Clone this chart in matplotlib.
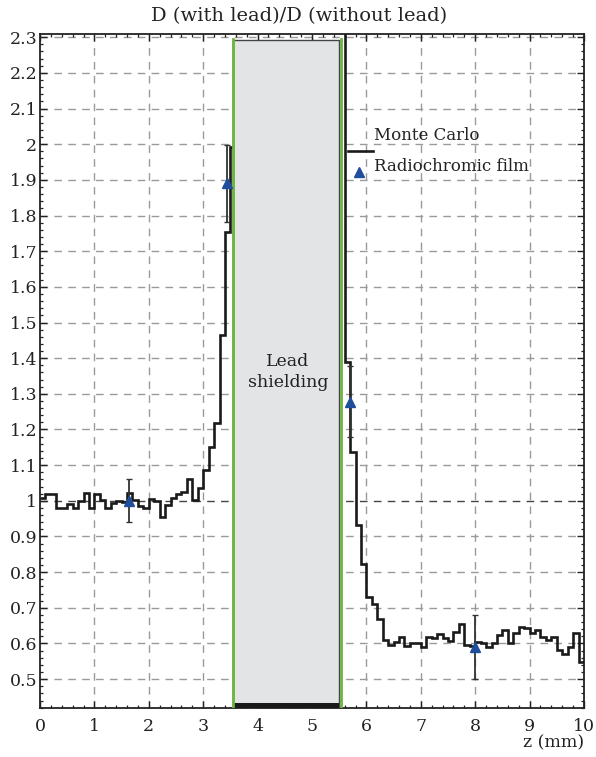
import numpy as np
import matplotlib
matplotlib.use('Agg')
import matplotlib.pyplot as plt
from matplotlib.patches import Rectangle
from matplotlib.ticker import MultipleLocator

plt.rcParams['font.family'] = ['DejaVu Serif']

# Monte Carlo histogram, 0.1 mm bins (left of lead: 0 - 3.6 mm)
left_edges = np.round(np.arange(0.0, 3.65, 0.1), 2)
left_vals = [1.008, 1.018, 1.018, 0.979, 0.981, 0.991, 0.981, 1.000, 1.023, 0.979,
             1.018, 1.002, 0.980, 0.993, 1.000, 0.997, 1.022, 1.002, 0.985, 0.979,
             1.006, 0.999, 0.955, 0.988, 1.008, 1.018, 1.025, 1.061, 1.002, 1.037,
             1.086, 1.151, 1.219, 1.466, 1.754, 1.993]

# right of lead: 5.5 - 10 mm
right_edges = np.round(np.arange(5.5, 10.05, 0.1), 2)
right_vals = [2.45, 1.388, 1.136, 0.932, 0.824, 0.731, 0.710, 0.668,
              0.611, 0.597, 0.604, 0.618, 0.592, 0.600, 0.600, 0.591, 0.617, 0.614,
              0.626, 0.614, 0.607, 0.633, 0.654, 0.595, 0.592, 0.604, 0.602, 0.589,
              0.602, 0.623, 0.639, 0.600, 0.628, 0.647, 0.642, 0.628, 0.637, 0.617,
              0.611, 0.618, 0.583, 0.571, 0.589, 0.628, 0.549]

# Radiochromic film measurements
film_z = [1.64, 3.43, 5.70, 7.99]
film_d = [1.00, 1.89, 1.278, 0.589]
film_err = [0.06, 0.108, 0.10, 0.09]

lead_z = (3.555, 5.495)
ymin, ymax = 0.419, 2.309

fig = plt.figure(figsize=(5.96, 7.57), dpi=100)
ax = fig.add_axes([40 / 596, 1 - 708 / 757, 544 / 596, 674 / 757])

ax.set_xlim(0, 10)
ax.set_ylim(ymin, ymax)

# grid
for v in range(1, 10):
    ax.axvline(v, color='#9a9a9a', lw=1.0, ls=(0, (5.5, 4.5)), zorder=0)
for v in np.arange(0.5, 2.31, 0.1):
    if abs(v - 1.0) < 1e-6:
        ax.axhline(v, color='#444444', lw=1.0, ls=(0, (5.5, 4.5)), zorder=0)
    else:
        ax.axhline(v, color='#9a9a9a', lw=1.0, ls=(0, (5.5, 4.5)), zorder=0)

# Monte Carlo line
ax.stairs(left_vals, left_edges, color='#1a1a1a', lw=1.9, zorder=3, baseline=None)
ax.stairs(right_vals, right_edges, color='#1a1a1a', lw=1.9, zorder=3, baseline=None)

# lead shielding block
ax.add_patch(Rectangle((lead_z[0], ymin), lead_z[1] - lead_z[0], 2.293 - ymin,
                       facecolor='#e3e4e6', edgecolor='#444444', lw=1.0, zorder=4))
ax.add_patch(Rectangle((lead_z[0], ymin), lead_z[1] - lead_z[0], 0.014,
                       facecolor='#1a1a1a', edgecolor='none', zorder=5))
ax.plot([lead_z[0] - 0.015] * 2, [ymin, 2.295], color='#6cb33f', lw=2.0, zorder=5)
ax.plot([lead_z[1] + 0.04] * 2, [ymin, 2.295], color='#6cb33f', lw=2.0, zorder=5)
ax.text(4.56, 1.361, 'Lead\nshielding', ha='center', va='center', fontsize=12.5,
        color='#222222', linespacing=1.3, zorder=6)

# film points
ax.errorbar(film_z, film_d, yerr=film_err, fmt='none', ecolor='#333333',
            elinewidth=1.3, capsize=2, capthick=1.0, zorder=6)
ax.plot(film_z, film_d, ls='none', marker='^', ms=7, color='#1f4e9c', zorder=7)

# legend drawn by hand
ax.plot([(348 - 40) / 544, (373 - 40) / 544], [(708 - 151.5) / 674] * 2,
        transform=ax.transAxes, color='#1a1a1a', lw=1.9, zorder=6)
ax.plot([(359 - 40) / 544], [(708 - 172) / 674], transform=ax.transAxes,
        marker='^', ms=7, color='#1f4e9c', ls='none', zorder=7)
ax.text((374 - 40) / 544, (708 - 136) / 674, 'Monte Carlo', transform=ax.transAxes,
        ha='left', va='center', fontsize=12, color='#222222', zorder=7)
ax.text((374 - 40) / 544, (708 - 167) / 674, 'Radiochromic film', transform=ax.transAxes,
        ha='left', va='center', fontsize=12, color='#222222', zorder=7)

# ticks
ax.xaxis.set_major_locator(MultipleLocator(1))
ax.xaxis.set_minor_locator(MultipleLocator(0.2))
ax.set_yticks(np.round(np.arange(0.5, 2.31, 0.1), 1))
ax.set_yticklabels(['0.5', '0.6', '0.7', '0.8', '0.9', '1', '1.1', '1.2', '1.3', '1.4',
                    '1.5', '1.6', '1.7', '1.8', '1.9', '2', '2.1', '2.2', '2.3'])
ax.yaxis.set_minor_locator(MultipleLocator(0.02))
ax.tick_params(which='both', direction='in', top=True, right=True, colors='#222222',
               labelsize=12.5)
ax.tick_params(which='major', length=5, width=1.0)
ax.tick_params(which='minor', length=2.5, width=0.9)
ax.tick_params(axis='x', pad=7)
ax.tick_params(axis='y', pad=2)
for s in ax.spines.values():
    s.set_linewidth(1.3)
    s.set_color('#222222')

fig.text(299 / 596, 1 - 16 / 757, 'D (with lead)/D (without lead)', ha='center',
         va='center', fontsize=14, color='#222222')
fig.text(584 / 596, 1 - 743 / 757, 'z (mm)', ha='right', va='center', fontsize=12.5,
         color='#222222')

fig.savefig('out.png', dpi=100)
